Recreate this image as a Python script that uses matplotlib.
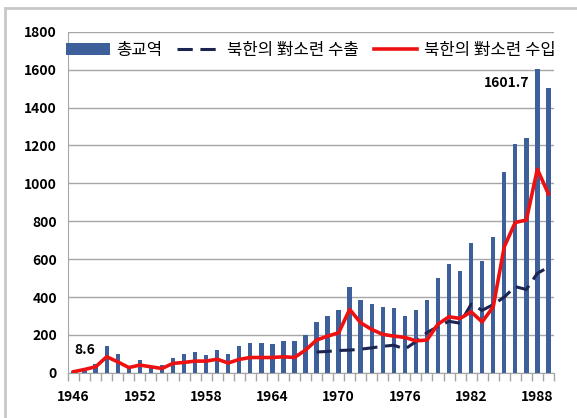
import matplotlib.pyplot as plt
import numpy as np
from matplotlib.patches import Rectangle

plt.rcParams['font.family'] = ['Noto Sans CJK KR', 'DejaVu Sans']

years = list(range(1946, 1990))
total = [8.6, 22, 45, 140, 102, 30, 67, 35, 40, 81, 97, 111, 93, 120, 102,
         143, 157, 157, 151, 166, 166, 199, 266, 301, 331, 454, 384, 361,
         345, 340, 301, 331, 384, 498, 572, 537, 686, 590, 718, 1058, 1206,
         1238, 1601.7, 1502]
imports = [6, 18, 32, 85, 58, 28, 41, 32, 23, 50, 55, 62, 62, 72, 52, 71, 81,
           81, 81, 85, 81, 120, 173, 194, 211, 335, 264, 229, 203, 194, 187,
           169, 173, 257, 296, 287, 322, 269, 348, 665, 794, 806, 1075, 944]
exports = [np.nan] * 22 + [110, 113, 118, 120, 125, 132, 140, 146, 125, 165,
                           212, 245, 272, 262, 362, 330, 360, 400, 455, 440,
                           525, 558]
tick_years = [1946, 1952, 1958, 1964, 1970, 1976, 1982, 1988]

fig = plt.figure(figsize=(5.77, 4.18), dpi=100)
ax = fig.add_axes([0.118, 0.108, 0.842, 0.816])

# outer frame of the original picture
fig.patches.append(Rectangle((5 / 577, -0.05), 1.2, (418 - 8) / 418 + 0.05,
                             transform=fig.transFigure, fill=False,
                             edgecolor='#c8c8c8', linewidth=2))

x = np.arange(len(years))
b = ax.bar(x, total, width=0.4, color='#3d5f9a', label='총교역', zorder=2)
l1, = ax.plot(x, exports, color='#1c2550', linewidth=2.2, dashes=(5, 2.5),
              label='북한의 對소련 수출', zorder=3)
l2, = ax.plot(x, imports, color='#ee1111', linewidth=2.6,
              label='북한의 對소련 수입', zorder=4)

ax.set_xlim(-0.5, len(years) - 0.5)
ax.set_ylim(0, 1800)
ax.set_yticks(range(0, 1801, 200))
ax.grid(axis='y', color='#a6a6a6', linewidth=1, zorder=0)

ax.set_xticks([years.index(y) for y in tick_years])
ax.set_xticklabels([str(y) for y in tick_years])
ax.set_xticks(np.arange(-0.5, len(years), 1), minor=True)
ax.tick_params(axis='x', which='major', length=0, pad=12, labelsize=10)
ax.tick_params(axis='x', which='minor', length=6, color='#a6a6a6', width=1)
ax.tick_params(axis='y', length=0, pad=8, labelsize=10)
for lbl in ax.get_xticklabels() + ax.get_yticklabels():
    lbl.set_fontweight('bold')

for s in ['top', 'right']:
    ax.spines[s].set_visible(False)
ax.spines['left'].set_color('#a6a6a6')
ax.spines['bottom'].set_color('#a6a6a6')

ax.text(0.1, 120, '8.6', fontsize=10, fontweight='bold', va='center')
ax.text(41.3, 1530, '1601.7', fontsize=10, fontweight='bold', ha='right',
        va='center')

ax.legend([b, l1, l2], ['총교역', '북한의 對소련 수출', '북한의 對소련 수입'],
          loc='center', bbox_to_anchor=(0.5, 0.945), ncol=3,
          frameon=False, fontsize=12, handlelength=2.6,
          columnspacing=0.9, handletextpad=0.4, borderaxespad=0)

fig.savefig('out.png', dpi=100)
